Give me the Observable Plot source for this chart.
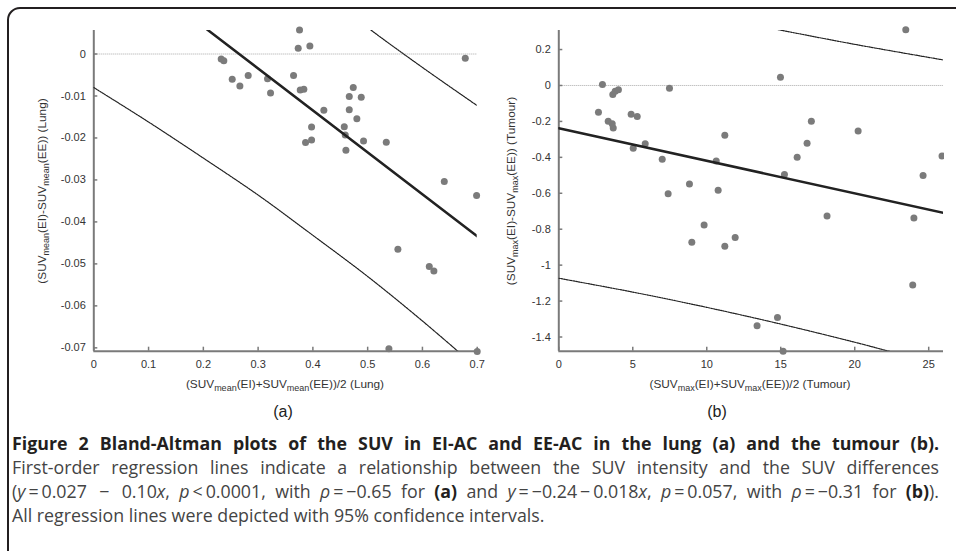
<!DOCTYPE html>
<html>
<head>
<meta charset="utf-8">
<script src="https://cdn.jsdelivr.net/npm/d3@7"></script>
<script src="https://cdn.jsdelivr.net/npm/@observablehq/plot@0.6"></script>
<style>
  html, body { margin: 0; padding: 0; background: #fff; }
  body { width: 956px; height: 551px; overflow: hidden; position: relative; font-family: "Liberation Sans", Arial, sans-serif; }
  #frame { position: absolute; left: 7px; top: 7px; width: 1100px; height: 700px; border: 2px solid #231f20; border-radius: 13px; box-sizing: border-box; }
  .plot { position: absolute; top: 0; }
  .atitle { position: absolute; font-size: 11.8px; color: #333; white-space: nowrap; transform: translate(-50%, -50%); line-height: 1; }
  .atitle sub { font-size: 9px; vertical-align: -3px; line-height: 0; }
  .ytitle { transform: translate(-50%, -50%) rotate(-90deg); }
  .panel { position: absolute; font-size: 16px; color: #222; transform: translate(-50%, -50%); }
  #caption { position: absolute; left: 12px; top: 431px; width: 927px; font-family: "Open Sans", sans-serif; font-size: 17.8px; line-height: 24px; color: #444; }
  #caption div { text-align: justify; text-align-last: justify; white-space: nowrap; }
  #caption div.last { text-align-last: left; }
  #caption b { color: #231f20; }
</style>
</head>
<body>
<div id="frame"></div>
<div id="pa" class="plot" style="left:0px"></div>
<div id="pb" class="plot" style="left:480px"></div>

<div class="atitle" style="left:285px; top:385px">(SUV<sub>mean</sub>(EI)+SUV<sub>mean</sub>(EE))/2 (Lung)</div>
<div class="atitle ytitle" style="left:43px; top:191px">(SUV<sub>mean</sub>(EI)-SUV<sub>mean</sub>(EE)) (Lung)</div>
<div class="atitle" style="left:750px; top:385px">(SUV<sub>max</sub>(EI)+SUV<sub>max</sub>(EE))/2 (Tumour)</div>
<div class="atitle ytitle" style="left:512px; top:191px">(SUV<sub>max</sub>(EI)-SUV<sub>max</sub>(EE)) (Tumour)</div>

<div class="panel" style="left:283px; top:412px">(a)</div>
<div class="panel" style="left:717px; top:412px">(b)</div>

<div id="caption">
  <div><b>Figure 2 Bland-Altman plots of the SUV in EI-AC and EE-AC in the lung (a) and the tumour (b).</b></div>
  <div>First-order regression lines indicate a relationship between the SUV intensity and the SUV differences</div>
  <div>(<i>y</i>&#8201;=&#8201;0.027 &#8201;&#8722;&#8201; 0.10<i>x</i>, <i>p</i>&#8201;&lt;&#8201;0.0001, with <i>ρ</i>&#8201;=&#8201;&#8722;0.65 for <b>(a)</b> and <i>y</i>&#8201;=&#8201;&#8722;0.24&#8201;&#8722;&#8201;0.018<i>x</i>, <i>p</i>&#8201;=&#8201;0.057, with <i>ρ</i>&#8201;=&#8201;&#8722;0.31 for <b>(b)</b>).</div>
  <div class="last">All regression lines were depicted with 95% confidence intervals.</div>
</div>

<script>
// ---- Panel (a): Lung ----
const lungX = [0.2326,0.2374,0.2527,0.2667,0.2819,0.3172,0.3227,0.3647,0.3756,0.3732,0.3945,0.3769,0.3835,0.3976,0.3866,0.3976,0.4200,0.4573,0.4591,0.4603,0.4664,0.4664,0.4737,0.4803,0.4883,0.4925,0.5340,0.6399,0.6782,0.6989,0.5552,0.6125,0.6209,0.5388,0.7000];
const lungY = [-0.0012,-0.0016,-0.0060,-0.0076,-0.0051,-0.0059,-0.0093,-0.0051,0.0057,0.0014,0.0019,-0.0086,-0.0084,-0.0174,-0.0211,-0.0205,-0.0134,-0.0173,-0.0193,-0.0229,-0.0101,-0.0133,-0.0080,-0.0154,-0.0103,-0.0207,-0.0210,-0.0304,-0.0010,-0.0337,-0.0465,-0.0506,-0.0517,-0.0702,-0.0709];
const lungFit = [[0, 0.0265], [0.7, -0.0434]];
const lungLower = [[0,-0.0080],[0.1,-0.0162],[0.2,-0.0248],[0.3,-0.0336],[0.4,-0.0432],[0.5,-0.0530],[0.6,-0.0636],[0.7,-0.0748]];
const lungUpper = [[0.45,0.0115],[0.5,0.0063],[0.6,-0.0032],[0.7,-0.0123]];
const lungXTicks = [0,0.1,0.2,0.3,0.4,0.5,0.6,0.7];
const lungYTicks = [0,-0.01,-0.02,-0.03,-0.04,-0.05,-0.06,-0.07];
const lungXDomain = [0, 0.7];
const lungYDomain = [-0.0708, 0.0056];

// ---- Panel (b): Tumour ----
const tumX = [2.68,2.95,3.34,3.61,3.68,3.65,3.81,4.03,4.89,5.30,5.03,5.84,6.99,7.48,7.39,8.83,10.64,10.77,11.22,14.98,15.25,16.11,16.78,17.07,20.23,23.45,24.62,25.90,8.99,9.82,11.22,11.92,18.13,24.00,23.92,13.40,14.78,15.16];
const tumY = [-0.149,0.006,-0.199,-0.213,-0.236,-0.050,-0.032,-0.024,-0.160,-0.173,-0.349,-0.325,-0.410,-0.015,-0.603,-0.549,-0.421,-0.583,-0.277,0.046,-0.496,-0.399,-0.321,-0.199,-0.254,0.310,-0.501,-0.392,-0.872,-0.776,-0.895,-0.846,-0.726,-0.737,-1.110,-1.338,-1.292,-1.479];
const tumFit = [[0, -0.238], [26, -0.709]];
const tumLower = [[0,-1.073],[5,-1.150],[10,-1.235],[15,-1.328],[20,-1.429],[22.3,-1.479],[26,-1.560]];
const tumUpper = [[14,0.325],[15,0.308],[20,0.229],[26,0.142]];
const tumXTicks = [0,5,10,15,20,25];
const tumYTicks = [0.2,0,-0.2,-0.4,-0.6,-0.8,-1,-1.2,-1.4];
const tumXDomain = [0, 26];
const tumYDomain = [-1.479, 0.306];

const fmt = d => String(d);
const axisGray = "#7a7a7a";
const dotGray = "#7b7b7b";

function panel({xs, ys, fit, lower, upper, xTicks, yTicks, xDomain, yDomain, width, height, margins}) {
  const pts = xs.map((x, i) => ({x, y: ys[i]}));
  const plotH = height - margins.top - margins.bottom;
  const plotW = width - margins.left - margins.right;
  return Plot.plot({
    width, height,
    marginLeft: margins.left, marginRight: margins.right,
    marginTop: margins.top, marginBottom: margins.bottom,
    style: {fontFamily: "'Liberation Sans', Arial, sans-serif", fontSize: "11px", color: "#333", background: "transparent", overflow: "visible"},
    x: {domain: xDomain},
    y: {domain: yDomain},
    marks: [
      Plot.ruleY([0], {stroke: "#a8a8a8", strokeWidth: 1, strokeDasharray: "1,1"}),
      Plot.ruleX([xDomain[0]], {stroke: axisGray, strokeWidth: 2}),
      Plot.ruleY([yDomain[0]], {stroke: axisGray, strokeWidth: 2}),
      Plot.tickX(xTicks, {x: d => d, stroke: axisGray, strokeWidth: 1.5, insetTop: plotH - 4}),
      Plot.tickY(yTicks, {y: d => d, stroke: axisGray, strokeWidth: 1.5, insetRight: plotW - 4}),
      Plot.axisX({ticks: xTicks, tickSize: 0, tickPadding: 9, tickFormat: fmt, label: null}),
      Plot.axisY({ticks: yTicks, tickSize: 0, tickPadding: 8, tickFormat: fmt, label: null}),
      Plot.dot(pts, {x: "x", y: "y", r: 3.5, fill: dotGray, stroke: "none"}),
      Plot.line(lower, {x: d => d[0], y: d => d[1], stroke: "#222", strokeWidth: 1.2, strokeDasharray: "1.5,1", curve: "catmull-rom", clip: true}),
      Plot.line(upper, {x: d => d[0], y: d => d[1], stroke: "#222", strokeWidth: 1.2, strokeDasharray: "1.5,1", curve: "catmull-rom", clip: true}),
      Plot.line(fit, {x: d => d[0], y: d => d[1], stroke: "#222", strokeWidth: 2.5, clip: true})
    ]
  });
}

document.getElementById("pa").append(panel({
  xs: lungX, ys: lungY, fit: lungFit, lower: lungLower, upper: lungUpper,
  xTicks: lungXTicks, yTicks: lungYTicks, xDomain: lungXDomain, yDomain: lungYDomain,
  width: 490, height: 400, margins: {left: 93.3, right: 13.3, top: 30, bottom: 49.3}
}));

document.getElementById("pb").append(panel({
  xs: tumX, ys: tumY, fit: tumFit, lower: tumLower, upper: tumUpper,
  xTicks: tumXTicks, yTicks: tumYTicks, xDomain: tumXDomain, yDomain: tumYDomain,
  width: 464, height: 400, margins: {left: 78.3, right: 1, top: 30, bottom: 49.3}
}));
// clip right panel at its svg edge, like the reference
document.querySelector("#pb svg").style.overflow = "hidden";
</script>
</body>
</html>
